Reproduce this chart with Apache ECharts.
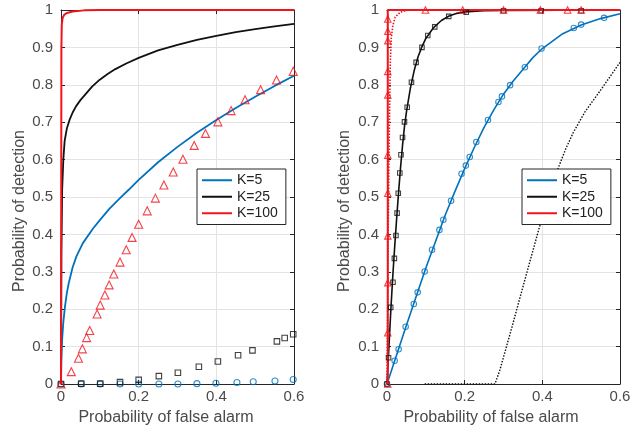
<!DOCTYPE html>
<html>
<head>
<meta charset="utf-8">
<script src="https://cdn.jsdelivr.net/npm/echarts@6/dist/echarts.min.js"></script>
<style>html,body{margin:0;padding:0;background:#fff}#c{width:639px;height:431px}</style>
</head>
<body>
<div id="c"></div>
<script>
// ---------- data ----------
const legendNames = ['K=5', 'K=25', 'K=100'];
const xTicks = [0, 0.2, 0.4, 0.6];
const yTicks = [0, 0.1, 0.2, 0.3, 0.4, 0.5, 0.6, 0.7, 0.8, 0.9, 1];
const xTitle = 'Probability of false alarm';
const yTitle = 'Probability of detection';

// left panel
const leftK5Line = [[0,0],[0.001,0.06],[0.003,0.12],[0.006,0.165],[0.01,0.205],[0.015,0.243],[0.02,0.27],[0.03,0.312],[0.04,0.342],[0.056,0.376],[0.082,0.415],[0.1,0.438],[0.125,0.469],[0.15,0.495],[0.175,0.52],[0.2,0.546],[0.25,0.593],[0.3,0.634],[0.35,0.672],[0.4,0.706],[0.45,0.738],[0.5,0.768],[0.55,0.797],[0.6,0.824]];
const leftK25Line = [[0,0],[0.001,0.35],[0.003,0.52],[0.006,0.6],[0.0094,0.65],[0.015,0.683],[0.022,0.706],[0.03,0.726],[0.039,0.743],[0.05,0.759],[0.065,0.777],[0.08,0.795],[0.099,0.813],[0.12,0.829],[0.14,0.842],[0.168,0.857],[0.2,0.872],[0.25,0.892],[0.3,0.907],[0.35,0.92],[0.4,0.931],[0.45,0.941],[0.5,0.949],[0.55,0.956],[0.6,0.963]];
const leftK100Line = [[0,0],[0.001,0.9],[0.002,0.96],[0.004,0.978],[0.008,0.987],[0.015,0.992],[0.03,0.996],[0.06,0.999],[0.1,1],[0.6,1]];
const leftK5Sim = [[0,0],[0.052,0],[0.101,0],[0.152,0],[0.2,0],[0.252,0],[0.301,0],[0.35,0.001],[0.399,0.002],[0.453,0.004],[0.495,0.006],[0.551,0.008],[0.598,0.012]];
const leftK25Sim = [[0,0],[0.052,0.001],[0.101,0.001],[0.152,0.005],[0.2,0.011],[0.252,0.021],[0.301,0.03],[0.355,0.046],[0.404,0.06],[0.456,0.077],[0.493,0.09],[0.556,0.114],[0.576,0.123],[0.598,0.133]];
const leftK100Sim = [[0,0],[0.0265,0.033],[0.045,0.069],[0.055,0.094],[0.066,0.124],[0.074,0.143],[0.093,0.187],[0.101,0.211],[0.113,0.238],[0.124,0.265],[0.136,0.294],[0.152,0.326],[0.168,0.359],[0.183,0.392],[0.2,0.427],[0.222,0.463],[0.243,0.497],[0.265,0.532],[0.289,0.567],[0.314,0.601],[0.343,0.638],[0.372,0.67],[0.404,0.701],[0.438,0.731],[0.474,0.76],[0.514,0.787],[0.555,0.813],[0.598,0.836]];

// right panel
const rightK5Line = [[0,0],[0.05,0.157],[0.1,0.31],[0.15,0.452],[0.175,0.515],[0.2,0.576],[0.225,0.633],[0.25,0.686],[0.275,0.733],[0.3,0.775],[0.325,0.81],[0.35,0.841],[0.375,0.872],[0.4,0.897],[0.45,0.935],[0.5,0.96],[0.55,0.977],[0.6,0.99]];
const rightK25Line = [[0,0],[0.005,0.1],[0.01,0.2],[0.015,0.29],[0.02,0.37],[0.025,0.445],[0.03,0.515],[0.035,0.58],[0.04,0.638],[0.045,0.688],[0.05,0.727],[0.06,0.79],[0.07,0.838],[0.08,0.875],[0.09,0.902],[0.1,0.924],[0.12,0.953],[0.14,0.972],[0.16,0.984],[0.18,0.991],[0.2,0.995],[0.25,0.998],[0.3,0.999],[0.6,1]];
const rightK100Line = [[0.002,0],[0.002,1],[0.6,1]];
const rightK5Sim = [[0,0],[0.0197,0.062],[0.03,0.093],[0.048,0.153],[0.069,0.214],[0.079,0.245],[0.097,0.301],[0.116,0.359],[0.135,0.412],[0.145,0.439],[0.165,0.49],[0.192,0.562],[0.203,0.584],[0.213,0.607],[0.23,0.647],[0.26,0.706],[0.287,0.754],[0.296,0.769],[0.317,0.799],[0.355,0.847],[0.398,0.897],[0.481,0.952],[0.5,0.961],[0.559,0.979]];
const rightK25Sim = [[0,0],[0.004,0.07],[0.0095,0.205],[0.0154,0.272],[0.019,0.336],[0.023,0.397],[0.026,0.457],[0.029,0.51],[0.033,0.564],[0.036,0.613],[0.04,0.659],[0.045,0.701],[0.052,0.74],[0.063,0.807],[0.075,0.86],[0.09,0.9],[0.105,0.932],[0.123,0.955],[0.159,0.983],[0.204,0.994],[0.3,0.998],[0.397,0.998],[0.5,0.998]];
const rightK100Sim = [[0.002,0],[0.002,0.137],[0.002,0.271],[0.002,0.396],[0.002,0.51],[0.002,0.612],[0.002,0.773],[0.002,0.836],[0.002,0.918],[0.002,0.943],[0.002,0.976],[0.099,1],[0.195,1],[0.3,1],[0.395,1],[0.465,1],[0.5,1]];
const rightK100Dotted = [[0,0],[0.003,0.4],[0.005,0.6],[0.007,0.75],[0.0085,0.86],[0.011,0.925],[0.015,0.958],[0.021,0.981],[0.034,0.994],[0.05,0.999],[0.08,1],[0.6,1]];
const rightK25Dotted = [[0.097,0],[0.278,0],[0.29,0.035],[0.305,0.09],[0.322,0.153],[0.343,0.233],[0.37,0.335],[0.39,0.41],[0.415,0.5],[0.44,0.575],[0.46,0.628],[0.48,0.673],[0.51,0.728],[0.553,0.79],[0.6,0.86]];

// ---------- style ----------
const BLUE = '#0072BD', BLACK = '#111111', RED = '#f0141c';
const FONT = 'Liberation Sans, Arial, Helvetica, sans-serif';
const AXC = '#262626', LBL = '#4a4a4a', GRIDC = '#e3e3e3';

const grids = [
  {left: 61, top: 10, width: 233, height: 374},
  {left: 387, top: 10, width: 233, height: 374}
];

function xAx(g, pos, labels) {
  return {type: 'value', gridIndex: g, position: pos, min: 0, max: 0.6, interval: 0.2,
    axisLine: {show: true, onZero: false, lineStyle: {color: AXC, width: 1}},
    axisTick: {show: true, inside: true, length: 4, lineStyle: {color: AXC}},
    axisLabel: {show: labels, fontSize: 15, color: LBL, margin: 5, fontFamily: FONT,
      formatter: v => xTicks.indexOf(Math.round(v*10)/10) >= 0 ? String(Math.round(v*10)/10) : ''},
    splitLine: {show: labels, lineStyle: {color: GRIDC, width: 1}}};
}
function yAx(g, pos, labels) {
  return {type: 'value', gridIndex: g, position: pos, min: 0, max: 1, interval: 0.1,
    axisLine: {show: true, onZero: false, lineStyle: {color: AXC, width: 1}},
    axisTick: {show: true, inside: true, length: 4, lineStyle: {color: AXC}},
    axisLabel: {show: labels, fontSize: 15, color: LBL, margin: 8, fontFamily: FONT,
      formatter: v => { const r = Math.round(v*10)/10; return yTicks.indexOf(r) >= 0 ? String(r) : ''; }},
    splitLine: {show: labels, lineStyle: {color: GRIDC, width: 1}}};
}

function line(name, data, xi, color, width, extra) {
  return Object.assign({type: 'line', name: name, data: data, xAxisIndex: xi, yAxisIndex: xi,
    showSymbol: false, symbol: 'none', color: color, lineStyle: {color: color, width: width},
    clip: false, silent: true, animation: false, z: 3}, extra || {});
}
function marks(name, data, xi, color, symbol, size) {
  return {type: 'scatter', name: name, data: data, xAxisIndex: xi, yAxisIndex: xi,
    symbol: symbol, symbolSize: size, clip: false, silent: true, animation: false, z: 5,
    itemStyle: {color: 'rgba(255,255,255,0)', borderColor: color, borderWidth: 1.1}};
}

function legendAt(left) {
  return {data: legendNames, left: left, top: 169, orient: 'vertical',
    icon: 'rect', itemWidth: 30, itemHeight: 2, itemGap: 0,
    padding: [3, 8, 3, 5], borderColor: AXC, borderWidth: 1, backgroundColor: '#fff',
    selectedMode: false, z: 10,
    textStyle: {fontSize: 14, color: '#222', fontFamily: FONT, lineHeight: 16.5}};
}

const option = {
  animation: false,
  backgroundColor: '#fff',
  grid: grids,
  xAxis: [xAx(0, 'bottom', true), xAx(0, 'top', false), xAx(1, 'bottom', true), xAx(1, 'top', false)],
  yAxis: [yAx(0, 'left', true), yAx(0, 'right', false), yAx(1, 'left', true), yAx(1, 'right', false)],
  legend: [legendAt(197), legendAt(522)],
  graphic: [
    {type: 'text', x: 166, y: 418, style: {text: xTitle, font: '16px ' + FONT, fill: LBL, x: 0, y: 0, align: 'center', verticalAlign: 'middle'}},
    {type: 'text', x: 491, y: 418, style: {text: xTitle, font: '16px ' + FONT, fill: LBL, x: 0, y: 0, align: 'center', verticalAlign: 'middle'}},
    {type: 'text', x: 20, y: 211, rotation: Math.PI/2, style: {text: yTitle, font: '16px ' + FONT, fill: LBL, x: 0, y: 0, align: 'center', verticalAlign: 'middle'}},
    {type: 'text', x: 345, y: 211, rotation: Math.PI/2, style: {text: yTitle, font: '16px ' + FONT, fill: LBL, x: 0, y: 0, align: 'center', verticalAlign: 'middle'}}
  ],
  series: [
    line('K=5', leftK5Line, 0, BLUE, 1.8),
    line('K=25', leftK25Line, 0, BLACK, 1.8),
    line('K=100', leftK100Line, 0, RED, 2),
    marks('K=5 sim L', leftK5Sim, 0, BLUE, 'circle', 6),
    marks('K=25 sim L', leftK25Sim, 0, BLACK, 'rect', 5.5),
    marks('K=100 sim L', leftK100Sim, 0, RED, 'triangle', 8),

    line('K=5', rightK5Line, 2, BLUE, 1.6),
    line('K=25', rightK25Line, 2, BLACK, 1.6),
    line('K=25 asym', rightK25Dotted, 2, BLACK, 1.4, {lineStyle: {color: BLACK, width: 1.4, type: [1.5, 1.5]}}),
    line('K=100 asym', rightK100Dotted, 2, RED, 1.6, {lineStyle: {color: RED, width: 1.6, type: [1.5, 1.5]}}),
    line('K=100', rightK100Line, 2, RED, 2),
    marks('K=5 sim R', rightK5Sim, 2, BLUE, 'circle', 5.5),
    marks('K=25 sim R', rightK25Sim, 2, BLACK, 'rect', 4.5),
    marks('K=100 sim R', rightK100Sim, 2, RED, 'triangle', 6.5)
  ]
};

const chart = echarts.init(document.getElementById('c'), null, {renderer: 'canvas'});
chart.setOption(option);
</script>
</body>
</html>
